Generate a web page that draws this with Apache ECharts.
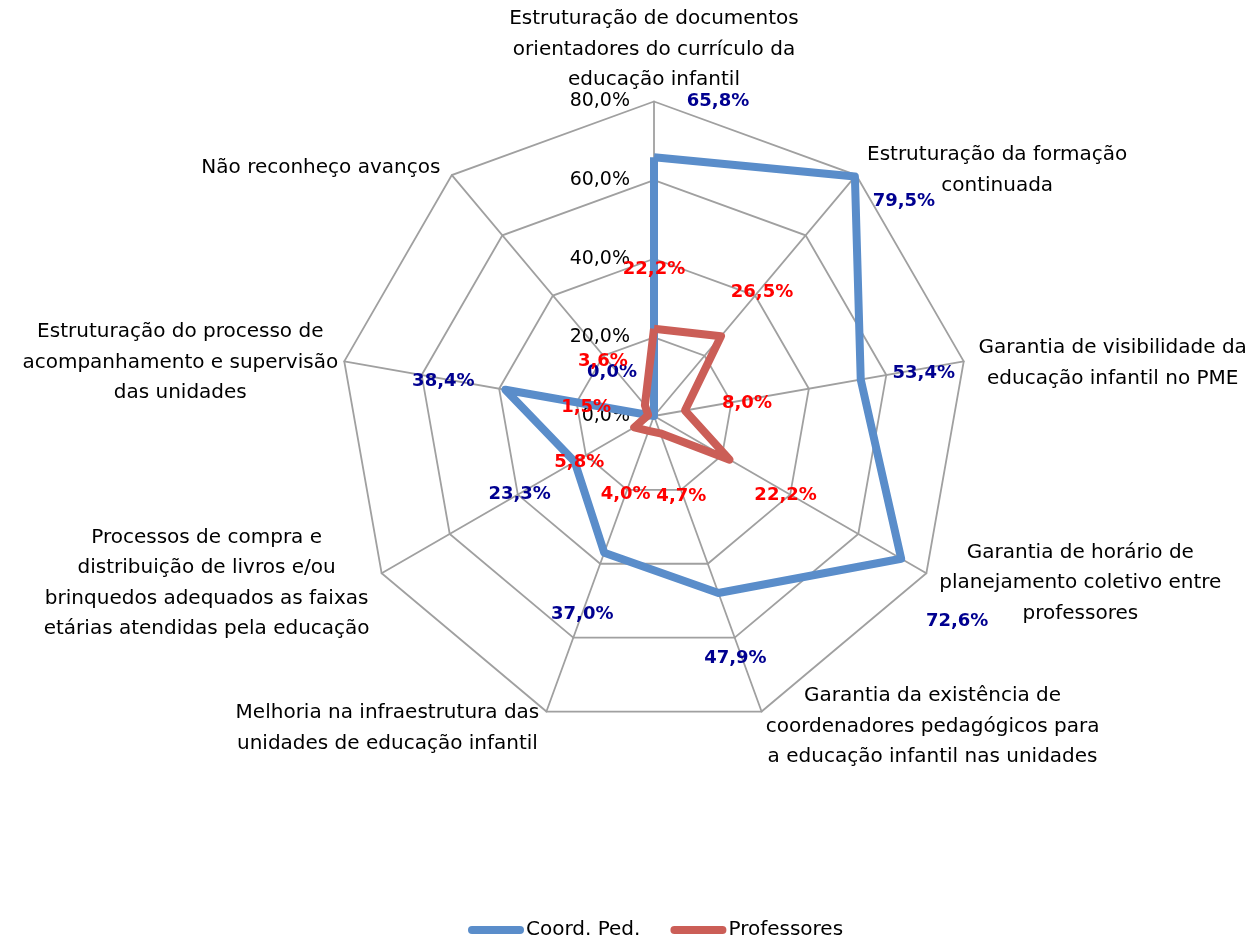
<!DOCTYPE html>
<html>
<head>
<meta charset="utf-8">
<script src="https://cdn.jsdelivr.net/npm/echarts@6/dist/echarts.min.js"></script>
<style>
html,body{margin:0;padding:0;background:#fff;}
#chart{width:1247px;height:941px;}
</style>
</head>
<body>
<div id="chart"></div>
<script>
// ---- data ----
const categories = [
  'Estruturação de documentos\norientadores do currículo da\neducação infantil',
  'Estruturação da formação\ncontinuada',
  'Garantia de visibilidade da\neducação infantil no PME',
  'Garantia de horário de\nplanejamento coletivo entre\nprofessores',
  'Garantia da existência de\ncoordenadores pedagógicos para\na educação infantil nas unidades',
  'Melhoria na infraestrutura das\nunidades de educação infantil',
  'Processos de compra e\ndistribuição de livros e/ou\nbrinquedos adequados as faixas\netárias atendidas pela educação',
  'Estruturação do processo de\nacompanhamento e supervisão\ndas unidades',
  'Não reconheço avanços'
];
const seriesNames = ['Coord. Ped.', 'Professores'];
const coordPed = [65.8, 79.5, 53.4, 72.6, 47.9, 37.0, 23.3, 38.4, 0.0];
const professores = [22.2, 26.5, 8.0, 22.2, 4.7, 4.0, 5.8, 1.5, 3.6];
const axisMin = 0, axisMax = 80, axisInterval = 20;

// ---- layout (label offsets in px, relative to each point) ----
const coordLabelOffsets = [[64,-56],[49,25],[63,-6],[56,63],[17,65],[-22,62],[-55,33],[-62,-8],[-42,-44]];
const profLabelOffsets  = [[0,-59],[41,-44],[62,-7],[56,36],[21,63],[-23,64],[-55,35],[-62,-8],[-42,-44]];
const nameOffsets = [[0,-52],[141,-5],[149,2],[154,10],[171,15],[-159,17],[-175,10],[-164,1],[-131,-7]];

const CX = 654, CY = 416, R = 314.5;
const FONT = 'DejaVu Sans';
const fmt = v => v.toFixed(1).replace('.', ',') + '%';
const blue = '#5A8DCA', red = '#CB5E57';

// ECharts radar runs counter-clockwise; the reference runs clockwise.
const order = categories.map((_, k) => (categories.length - k) % categories.length);
const reorder = arr => order.map(i => arr[i]);

function labelSeries(values, offsets, color, name) {
  return {
    type: 'scatter', name: name, coordinateSystem: 'polar', polarIndex: 0,
    silent: true, z: 10, symbol: 'circle', symbolSize: 1,
    itemStyle: {color: 'rgba(0,0,0,0)', opacity: 1},
    emphasis: {disabled: true},
    data: values.map((v, i) => ({
      value: [v, i],
      label: {
        show: true, position: 'inside', offset: offsets[i],
        formatter: () => fmt(v),
        color: color, opacity: 1, fontFamily: FONT, fontWeight: 'bold', fontSize: 18
      }
    }))
  };
}

const chart = echarts.init(document.getElementById('chart'), null, {renderer: 'canvas'});
chart.setOption({
  animation: false,
  backgroundColor: '#ffffff',
  color: [blue, red],
  legend: {
    data: seriesNames,
    top: 915, left: 463,
    icon: 'path://M4,0 L52,0 A4,4 0 0 1 52,8 L4,8 A4,4 0 0 1 4,0 Z',
    itemWidth: 56, itemHeight: 8, itemGap: 30,
    textStyle: {fontFamily: FONT, fontSize: 20, color: '#000', padding: [0,0,0,-3]}
  },
  radar: {
    center: [CX, CY], radius: R, startAngle: 90,
    splitNumber: (axisMax - axisMin) / axisInterval,
    shape: 'polygon',
    indicator: reorder(categories).map(c => ({name: c, min: axisMin, max: axisMax})),
    axisName: {show: false},
    axisLine: {lineStyle: {color: '#A0A0A0', width: 1.8}},
    splitLine: {lineStyle: {color: '#A0A0A0', width: 1.8}},
    splitArea: {show: false},
    axisLabel: {show: false}
  },
  polar: {center: [CX, CY], radius: R},
  angleAxis: {
    type: 'category', data: categories, startAngle: 90, boundaryGap: false,
    axisLine: {show: false}, axisTick: {show: false}, axisLabel: {show: false}, splitLine: {show: false}
  },
  radiusAxis: {
    type: 'value', min: axisMin, max: axisMax, interval: axisInterval,
    axisLine: {show: false}, axisTick: {show: false}, splitLine: {show: false},
    axisLabel: {
      show: true, showMinLabel: true, showMaxLabel: true, margin: 24,
      formatter: v => fmt(v), fontFamily: FONT, fontSize: 19, color: '#000'
    }
  },
  series: [
    {
      type: 'radar', name: seriesNames[0], z: 2, symbol: 'none',
      itemStyle: {color: blue},
      lineStyle: {color: blue, width: 8, join: 'round'},
      data: [{name: seriesNames[0], value: reorder(coordPed),
        itemStyle: {color: blue},
        lineStyle: {color: blue, width: 8, join: 'round'}}]
    },
    {
      type: 'radar', name: seriesNames[1], z: 3, symbol: 'none',
      itemStyle: {color: red},
      lineStyle: {color: red, width: 8, join: 'round'},
      data: [{name: seriesNames[1], value: reorder(professores),
        itemStyle: {color: red},
        lineStyle: {color: red, width: 8, join: 'round'}}]
    },
    labelSeries(coordPed, coordLabelOffsets, '#000090', 'coordLabels'),
    labelSeries(professores, profLabelOffsets, '#FF0000', 'profLabels'),
    {
      type: 'scatter', name: 'axisNames', coordinateSystem: 'polar', polarIndex: 0,
      silent: true, z: 10, symbol: 'circle', symbolSize: 1,
      itemStyle: {color: 'rgba(0,0,0,0)', opacity: 1},
      emphasis: {disabled: true},
      data: categories.map((c, i) => ({
        value: [axisMax, i],
        label: {
          show: true, position: 'inside', offset: nameOffsets[i],
          formatter: () => c, align: 'center', verticalAlign: 'middle',
          lineHeight: 30.5, color: '#000', opacity: 1, fontFamily: FONT, fontSize: 20
        }
      }))
    }
  ]
});
</script>
</body>
</html>
